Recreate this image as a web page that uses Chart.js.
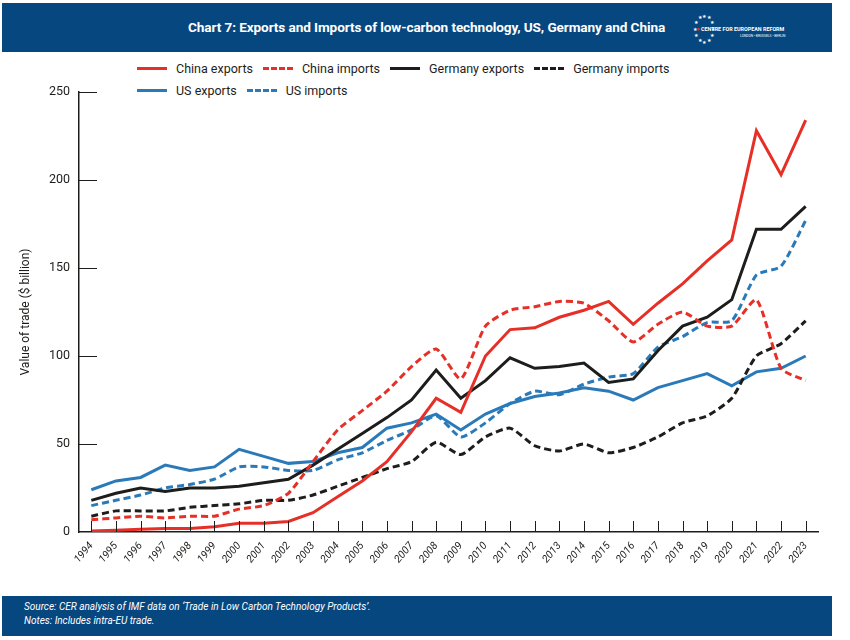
<!DOCTYPE html>
<html>
<head>
<meta charset="utf-8">
<script src="https://cdn.jsdelivr.net/npm/chart.js@4"></script>
<style>
  body { margin: 0; width: 850px; height: 640px; background: #fff; position: relative; overflow: hidden;
         font-family: "Roboto", sans-serif; }
  #head { position: absolute; left: 2px; top: 3px; width: 830px; height: 49px; background: #07477f; }
  #title { position: absolute; left: 186px; top: 16px; color: #fff; font-size: 13.6px; font-weight: bold; white-space: nowrap; letter-spacing: -0.1px; }
  #logo { position: absolute; left: 690px; top: 5px; }
  #foot { position: absolute; left: 2px; top: 596px; width: 830px; height: 40px; background: #07477f; color: #fff;
          font-size: 10px; font-style: italic; }
  #foot div { position: absolute; left: 22px; white-space: nowrap; }
  #legend { position: absolute; left: 137px; top: 57px; font-size: 12.5px; color: #1d1d1b; }
  .row { display: flex; align-items: center; height: 22px; white-space: nowrap; }
  .item { display: flex; align-items: center; margin-right: 10px; }
  .sw { width: 30px; height: 0; border-top: 3px solid; margin-right: 9px; }
  #wrap { position: absolute; left: 0; top: 52px; width: 850px; height: 544px; }
</style>
</head>
<body>
<div id="head">
  <div id="title">Chart 7: Exports and Imports of low-carbon technology, US, Germany and China</div>
  <svg id="logo" width="110" height="40" viewBox="0 0 110 40">
    <g fill="#fff" font-size="4.5" text-anchor="middle" id="stars"></g>
    <text x="9" y="23" fill="#fff" font-size="5.4" font-weight="bold" font-family="Roboto, sans-serif">CENTRE FOR EUROPEAN REFORM</text>
    <text x="48" y="29" fill="#fff" font-size="3.3" font-family="Roboto, sans-serif">LONDON • BRUSSELS • BERLIN</text>
    <circle cx="6.5" cy="21.2" r="1.3" fill="#e63027"/>
  </svg>
</div>
<div id="legend"></div>
<div id="wrap"><canvas id="mychart"></canvas></div>
<div id="foot">
  <div style="top:5px">Source: CER analysis of IMF data on ‘Trade in Low Carbon Technology Products’.</div>
  <div style="top:19px">Notes: Includes intra-EU trade.</div>
</div>
<script>
// years along the x-axis
var years = ['1994','1995','1996','1997','1998','1999','2000','2001','2002','2003','2004','2005','2006','2007','2008',
             '2009','2010','2011','2012','2013','2014','2015','2016','2017','2018','2019','2020','2021','2022','2023'];

// values, $ billion
var chinaExports   = [0.5,1,1.5,2,2,3,5,5,6,11,20,29,40,57,76,68,100,115,116,122,126,131,118,130,141,154,166,228,203,234];
var chinaImports   = [7,8,9,8,9,9,13,15,22,40,58,69,80,94,104,87,117,126,128,131,130,120,108,118,125,117,117,132,93,86];
var germanyExports = [18,22,25,23,25,25,26,28,30,38,47,56,65,75,92,76,86,99,93,94,96,85,87,103,117,122,132,172,172,185];
var germanyImports = [9,12,12,12,14,15,16,18,18,21,26,31,36,40,51,44,54,59,49,46,50,45,48,54,62,66,76,100,107,120];
var usExports      = [24,29,31,38,35,37,47,43,39,40,45,48,59,62,67,58,67,73,77,79,82,80,75,82,86,90,83,91,93,100];
var usImports      = [15,18,21,25,27,30,37,37,35,35,41,45,52,58,66,54,62,73,80,78,84,88,90,105,111,119,120,146,151,177];

var red = '#e63027', black = '#1d1d1b', blue = '#2a7ab9';

// logo stars
var g = document.getElementById('stars');
for (var i = 0; i < 12; i++) {
  var a = i * Math.PI / 6;
  var t = document.createElementNS('http://www.w3.org/2000/svg', 'text');
  t.setAttribute('x', (12 + 9 * Math.cos(a)).toFixed(1));
  t.setAttribute('y', (22.5 + 13 * Math.sin(a)).toFixed(1));
  t.textContent = '★';
  g.appendChild(t);
}

function line(label, data, color, dashed) {
  return {
    label: label, data: data, borderColor: color, backgroundColor: color,
    borderWidth: 3, borderDash: dashed ? [7, 4] : [], pointRadius: 0,
    tension: dashed ? 0.2 : 0, fill: false
  };
}

var datasets = [
  line('China exports', chinaExports, red, false),
  line('China imports', chinaImports, red, true),
  line('Germany exports', germanyExports, black, false),
  line('Germany imports', germanyImports, black, true),
  line('US exports', usExports, blue, false),
  line('US imports', usImports, blue, true)
];

// html legend, two rows like the original
var rows = [[0, 1, 2, 3], [4, 5]];
var leg = document.getElementById('legend');
rows.forEach(function (r) {
  var row = document.createElement('div');
  row.className = 'row';
  r.forEach(function (k) {
    var d = datasets[k];
    var it = document.createElement('div');
    it.className = 'item';
    var sw = document.createElement('span');
    sw.className = 'sw';
    sw.style.borderTopColor = d.borderColor;
    sw.style.borderTopStyle = d.borderDash.length ? 'dashed' : 'solid';
    it.appendChild(sw);
    it.appendChild(document.createTextNode(d.label));
    row.appendChild(it);
  });
  leg.appendChild(row);
});

// short tick marks drawn inside the plot
var innerTicks = {
  id: 'innerTicks',
  afterDraw: function (chart) {
    var c = chart.ctx, x = chart.scales.x, y = chart.scales.y, area = chart.chartArea;
    c.save();
    c.strokeStyle = black;
    c.lineWidth = 1;
    y.ticks.forEach(function (t) {
      if (t.value === 0) return;
      var py = Math.round(y.getPixelForValue(t.value)) + 0.5;
      c.beginPath(); c.moveTo(area.left, py); c.lineTo(area.left + 18, py); c.stroke();
    });
    years.forEach(function (yr, i) {
      var px = Math.round(x.getPixelForValue(i)) + 0.5;
      c.beginPath(); c.moveTo(px, area.bottom); c.lineTo(px, area.bottom - 11); c.stroke();
    });
    c.restore();
  }
};

var ctx = document.getElementById('mychart');
var myChart = new Chart(ctx, {
  type: 'line',
  data: { labels: years, datasets: datasets },
  options: {
    responsive: true,
    maintainAspectRatio: false,
    animation: false,
    layout: { padding: { top: 40, right: 32, left: 0, bottom: 0 } },
    plugins: { legend: { display: false }, tooltip: { enabled: false } },
    scales: {
      x: {
        offset: true,
        grid: { display: true, drawOnChartArea: false, drawTicks: false },
        border: { display: true, color: black, width: 1.5 },
        ticks: { color: black, font: { family: 'Roboto, sans-serif', size: 10.5, style: 'italic' },
                 maxRotation: 50, minRotation: 50, padding: 8, autoSkip: false },
        afterFit: function (s) { s.height = 64; }
      },
      y: {
        min: 0, max: 250,
        grid: { drawOnChartArea: false, drawTicks: false },
        border: { display: true, color: black, width: 1.5 },
        ticks: { stepSize: 50, color: black, padding: 9,
                 font: { family: 'Roboto, sans-serif', size: 12.5 } },
        title: { display: true, text: 'Value of trade ($ billion)', color: black, padding: { top: 19, bottom: 0 },
                 font: { family: 'Roboto, sans-serif', size: 12 } },
        afterFit: function (s) { s.width = 79; }
      }
    }
  },
  plugins: [innerTicks]
});
</script>
</body>
</html>
